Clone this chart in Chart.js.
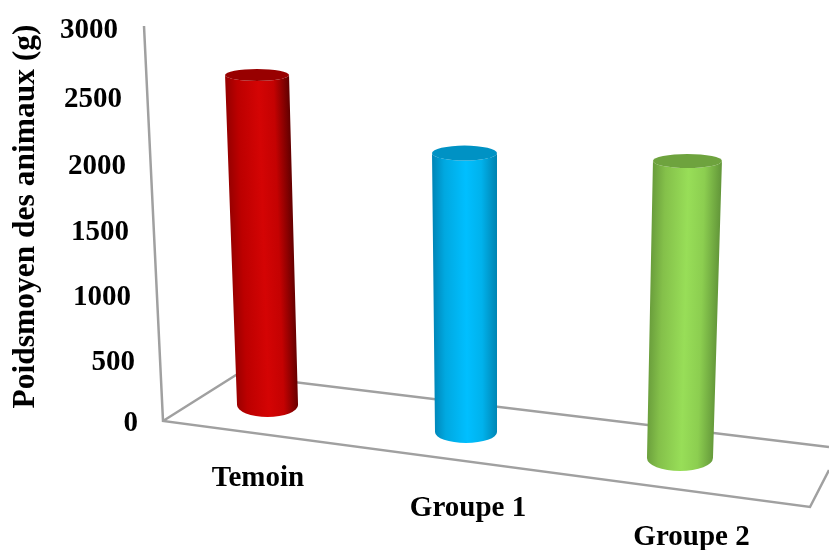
<!DOCTYPE html>
<html>
<head>
<meta charset="utf-8">
<style>
  html, body { margin: 0; padding: 0; background: #ffffff; }
  canvas { display: block; }
</style>
<script src="https://cdn.jsdelivr.net/npm/chart.js@4"></script>
</head>
<body>
<canvas id="chart" width="829" height="550"></canvas>
<script>
// Mean body weight per group
const categories = ['Temoin', 'Groupe 1', 'Groupe 2'];
const barTops = [2649, 2053, 1992];
// The floor recedes in perspective, so each column stands at its own level
const barBases = [130, -76, -275];
const axisTitle = 'Poidsmoyen des animaux (g)';

const sideColors = [
  ['#980000', '#bc0000', '#d40404', '#c40202', '#640000'],
  ['#0086b8', '#00a8e0', '#00bfff', '#00b2ec', '#0084b2'],
  ['#6a9e3c', '#84c04a', '#98de58', '#8cce50', '#64983a']
];
const capColors = ['#980000', '#0092c4', '#6ea33e'];
const barColors = ['#c00000', '#00b0f0', '#92d050'];

// Perspective of each column: horizontal shift and ellipse radii at both ends
const topDx = [-4.8, -9, 2.3];
const bottomDx = [5.7, -7.5, -5.2];
const topRx = [32, 32.5, 34.5];
const bottomRx = [30.5, 31, 33];
const topRy = [6, 7.5, 7];
const bottomRy = [12, 11, 13];

// Oblique placement of the tick labels
const yLabelRight = [138, 135, 131, 129, 126, 122, 118];
const yLabelDy = [2, 6, 6.5, 7, 6.5, 5, 1.5];
const xLabelPos = [[258, 479], [468, 509], [691.5, 538]];

const labelFont = 'bold 29px "Liberation Serif"';
const titleFont = 'bold 31.5px "Liberation Serif"';
const frameColor = '#a0a0a0';

function drawCylinder(ctx, el, i) {
  const cx = el.x;
  const tx = cx + topDx[i], bx = cx + bottomDx[i];
  const ty = el.y, by = el.base;
  const tr = topRx[i], br = bottomRx[i];

  // Shading runs across the column, square to its slanted axis
  const ax = tx - bx, ay = ty - by, len = Math.hypot(ax, ay);
  const nx = -ay / len, ny = ax / len;
  const mx = (tx + bx) / 2, my = (ty + by) / 2, mr = (tr + br) / 2;
  const grad = ctx.createLinearGradient(mx - nx * mr, my - ny * mr, mx + nx * mr, my + ny * mr);
  const stops = [0, 0.18, 0.52, 0.76, 1];
  stops.forEach((s, k) => grad.addColorStop(s, sideColors[i][k]));

  ctx.save();
  ctx.beginPath();
  ctx.moveTo(tx - tr, ty);
  ctx.lineTo(bx - br, by);
  ctx.ellipse(bx, by, br, bottomRy[i], 0, Math.PI, 0, true);
  ctx.lineTo(tx + tr, ty);
  ctx.ellipse(tx, ty, tr, topRy[i], 0, 0, Math.PI, false);
  ctx.closePath();
  ctx.fillStyle = grad;
  ctx.fill();

  ctx.beginPath();
  ctx.ellipse(tx, ty, tr, topRy[i], 0, 0, Math.PI * 2);
  ctx.fillStyle = capColors[i];
  ctx.fill();
  ctx.restore();
}

const scenePlugin = {
  id: 'scene',
  // Back wall edge, floor outline and the labels sit behind the columns
  beforeDatasetsDraw(chart) {
    const { ctx, scales } = chart;
    const oy = scales.y.getPixelForValue(0);
    const ty = scales.y.getPixelForValue(3000);
    ctx.save();
    ctx.strokeStyle = frameColor;
    ctx.lineWidth = 2.5;
    ctx.lineJoin = 'miter';
    ctx.beginPath();
    ctx.moveTo(144, ty - 3);
    ctx.lineTo(163, oy - 1);
    ctx.lineTo(810, oy + 85);
    ctx.lineTo(829, oy + 48);
    ctx.moveTo(163, oy - 1);
    ctx.lineTo(236, oy - 47);
    ctx.lineTo(829, oy + 25);
    ctx.stroke();

    ctx.fillStyle = '#000000';
    ctx.font = labelFont;
    ctx.textBaseline = 'middle';
    ctx.textAlign = 'right';
    scales.y.ticks.forEach((tick, i) => {
      ctx.fillText(String(tick.value), yLabelRight[i], scales.y.getPixelForValue(tick.value) + yLabelDy[i]);
    });
    ctx.textAlign = 'center';
    scales.x.ticks.forEach((tick, i) => {
      ctx.fillText(categories[i], xLabelPos[i][0], xLabelPos[i][1]);
    });

    ctx.font = titleFont;
    ctx.translate(26, 216.5);
    ctx.rotate(-Math.PI / 2);
    ctx.fillText(axisTitle, 0, 0);
    ctx.restore();
  },
  // Columns replace the default rectangles
  beforeDatasetDraw(chart, args) {
    args.meta.data.forEach((el, i) => drawCylinder(chart.ctx, el, i));
    return false;
  }
};

new Chart(document.getElementById('chart'), {
  type: 'bar',
  data: {
    labels: categories,
    datasets: [{
      data: barTops.map((top, i) => [barBases[i], top]),
      backgroundColor: barColors,
      barPercentage: 0.3,
      categoryPercentage: 1,
      clip: false
    }]
  },
  options: {
    responsive: false,
    animation: false,
    layout: { padding: { left: 148, right: 38, top: 29, bottom: 120 } },
    plugins: { legend: { display: false }, title: { display: false }, tooltip: { enabled: false } },
    scales: {
      x: {
        grid: { display: false },
        border: { display: false },
        ticks: { display: false }
      },
      y: {
        min: 0,
        max: 3000,
        grid: { display: false },
        border: { display: false },
        ticks: { display: false, stepSize: 500 }
      }
    }
  },
  plugins: [scenePlugin]
});
</script>
</body>
</html>
